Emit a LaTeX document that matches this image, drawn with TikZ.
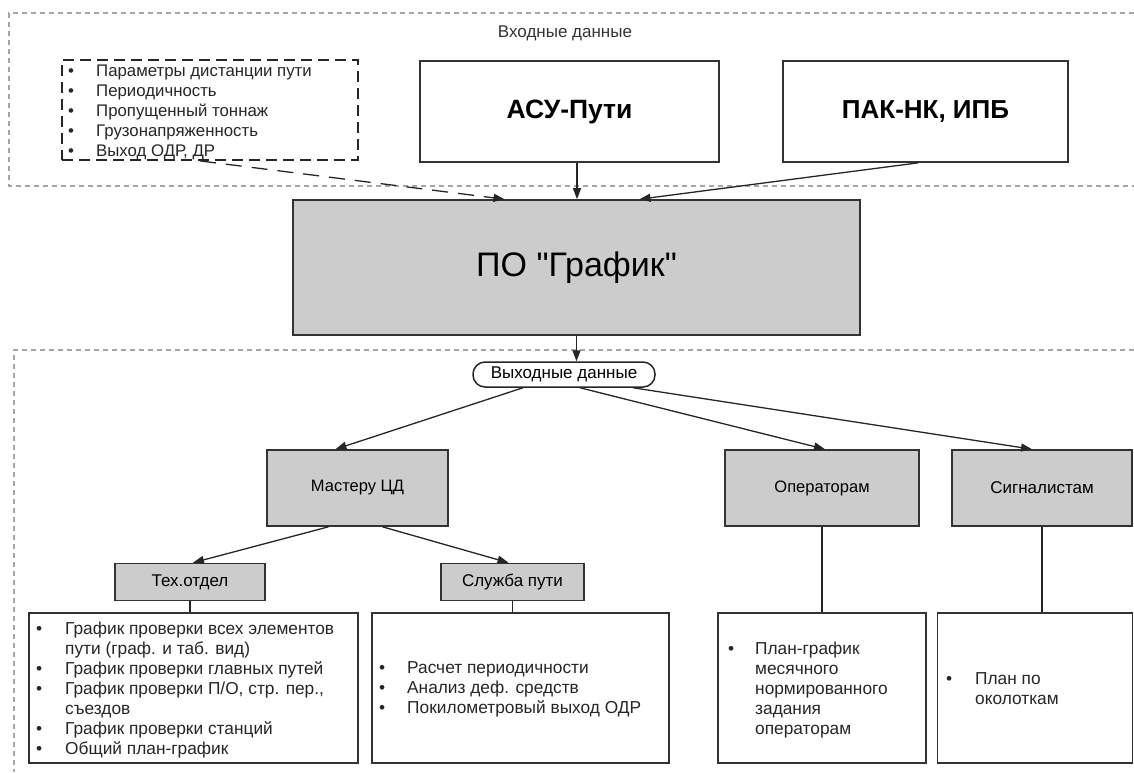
\documentclass[tikz,border=0pt]{standalone}
\usepackage{fontspec}
\setmainfont{Liberation Sans}
\usetikzlibrary{arrows.meta,calc}
\newcommand{\bul}[1]{\makebox[#1][l]{\textbullet}}
\tikzset{
  region/.style={draw=gray!70, dash pattern=on 5pt off 4pt, line width=1.3pt},
  listbox/.style={draw=black!85, dash pattern=on 11pt off 6pt, line width=1.8pt},
  box/.style={draw=black!80, line width=1.6pt, fill=white, inner sep=0pt},
  gbox/.style={draw=black!80, line width=1.6pt, fill=gray!40, inner sep=0pt},
  arr/.style={-{Triangle[length=11pt,width=8pt]}, line width=1.3pt, draw=black!85},
  darr/.style={arr, dash pattern=on 16pt off 10pt},
  ln/.style={line width=1.3pt, draw=black!85},
  txt/.style={inner sep=0pt, align=left, anchor=west, text=black!85},
}
\begin{document}
\begin{tikzpicture}[x=1pt,y=-1pt]
\useasboundingbox (0,0) rectangle (1134,772);
% regions
\draw[region] (1134,13) -| (9,186) -- (1134,186);
\draw[region] (1134,350) -| (14,772);
\node[inner sep=0pt, text=black!80, font=\fontsize{17}{20}\selectfont] (inlbl) at (565,33) {Входные данные};
% input boxes
\node[listbox, minimum width=296pt, minimum height=100pt] (list) at (210,110) {};
\node[txt, font=\fontsize{16.8}{20}\selectfont] (listt) at (68,112) {\bul{28pt}Параметры дистанции пути\\ \bul{28pt}Периодичность\\ \bul{28pt}Пропущенный тоннаж\\ \bul{28pt}Грузонапряженность\\ \bul{28pt}Выход ОДР, ДР};
\node[box, minimum width=299pt, minimum height=101pt, font=\bfseries\fontsize{26.5}{30}\selectfont] (asu) at (569.5,111.5) {АСУ-Пути};
\node[box, minimum width=285pt, minimum height=101pt, font=\bfseries\fontsize{26}{30}\selectfont] (pak) at (925.5,111.5) {ПАК-НК, ИПБ};
% main box
\node[gbox, minimum width=567pt, minimum height=135pt, font=\fontsize{34}{38}\selectfont] (po) at (576.5,267.5) {ПО \textquotedbl График\textquotedbl};
\draw[arr] ($(asu.south)+(7.5,0)$) -- ($(po.north)+(0.5,0)$);
\draw[arr] ($(pak.south)+(-7,0)$) -- ($(po.north)+(63,0)$);
\draw[darr] ($(list.south)+(-10,0)$) -- ($(po.north)+(-72,0)$);
% output
\node[draw=black!85, line width=1.5pt, rounded corners=12pt, minimum width=182pt, minimum height=25pt, inner sep=0pt, fill=white, font=\fontsize{17}{20}\selectfont] (out) at (564,374.5) {Выходные данные};
\draw[arr] (po.south) -- (po.south |- out.north);
\node[gbox, minimum width=181pt, minimum height=76pt, font=\fontsize{16.5}{19}\selectfont] (mas) at (357.5,488) {Мастеру ЦД};
\node[gbox, minimum width=194pt, minimum height=76pt, font=\fontsize{16.5}{19}\selectfont] (oper) at (822,488) {Операторам};
\node[gbox, minimum width=180pt, minimum height=76pt, font=\fontsize{17}{19}\selectfont] (sig) at (1042,488) {Сигналистам};
\draw[arr] ($(out.south)+(-41,0)$) -- ($(mas.north)+(-22,0)$);
\draw[arr] ($(out.south)+(16,0)$) -- ($(oper.north)+(3,0)$);
\draw[arr] ($(out.south)+(69,0)$) -- ($(sig.north)+(-10,0)$);
% departments
\node[gbox, minimum width=150pt, minimum height=37pt, font=\fontsize{17}{19}\selectfont] (tex) at (190,582) {Тех.отдел};
\node[gbox, minimum width=143pt, minimum height=37pt, font=\fontsize{17}{19}\selectfont] (slu) at (512.5,582) {Служба пути};
\draw[arr] ($(mas.south)+(-29,0)$) -- ($(tex.north)+(3,0)$);
\draw[arr] ($(mas.south)+(25,0)$) -- ($(slu.north)+(-4,0)$);
% result boxes
\node[box, minimum width=329pt, minimum height=150pt] (r1) at (193.5,688) {};
\node[box, minimum width=297pt, minimum height=150pt] (r2) at (520.5,688) {};
\node[box, minimum width=208pt, minimum height=150pt] (r3) at (822,688) {};
\node[box, minimum width=195pt, minimum height=150pt] (r4) at (1035,688) {};
\draw[ln] (tex.south) -- (tex.south |- r1.north);
\draw[ln] (slu.south) -- (slu.south |- r2.north);
\draw[ln] (oper.south) -- (oper.south |- r3.north);
\draw[ln] (sig.south) -- (sig.south |- r4.north);
\node[txt, font=\fontsize{17.3}{20}\selectfont] (r1t) at (36,690) {\bul{29pt}График проверки всех элементов\\ \hspace*{29pt}пути (граф. и таб. вид)\\ \bul{29pt}График проверки главных путей\\ \bul{29pt}График проверки П/О, стр. пер.,\\ \hspace*{29pt}съездов\\ \bul{29pt}График проверки станций\\ \bul{29pt}Общий план-график};
\node[txt, font=\fontsize{17.3}{20}\selectfont] (r2t) at (379,689) {\bul{28pt}Расчет периодичности\\ \bul{28pt}Анализ деф. средств\\ \bul{28pt}Покилометровый выход ОДР};
\node[txt, font=\fontsize{17.3}{20}\selectfont] (r3t) at (728,690) {\bul{27pt}План-график\\ \hspace*{27pt}месячного\\ \hspace*{27pt}нормированного\\ \hspace*{27pt}задания\\ \hspace*{27pt}операторам};
\node[txt, font=\fontsize{17.3}{20}\selectfont] (r4t) at (946,689) {\bul{29pt}План по\\ \hspace*{29pt}околоткам};
\end{tikzpicture}
\end{document}
